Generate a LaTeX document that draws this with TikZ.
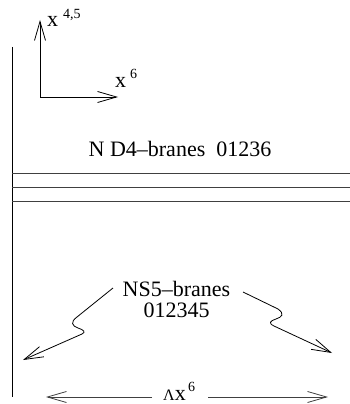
\documentclass[tikz,border=0pt]{standalone}
\usepackage{fontspec}
\setmainfont{Liberation Serif}
\usetikzlibrary{arrows.meta}
\tikzset{
  ln/.style={line width=0.8pt, black},
  brane/.style={line width=0.9pt, black!75},
  barb/.style={-{Straight Barb[length=19pt,width=11pt,line width=0.8pt]}},
  lbl/.style={font=\fontsize{22}{22}\selectfont, inner sep=0pt, anchor=base},
  sup/.style={font=\fontsize{14}{14}\selectfont, inner sep=0pt, anchor=base west},
}
\begin{document}
\begin{tikzpicture}[x=1pt,y=-1pt]
  \useasboundingbox (0,0) rectangle (350,404);

  % axes
  \coordinate (o) at (40,97);
  \coordinate (ytip) at (40,20);
  \coordinate (xtip) at (118,97);
  \draw[ln,barb] (o) -- (ytip);
  \draw[ln,barb] (o) -- (xtip);
  \node[lbl,anchor=base west] (xy) at (47,27) {x};
  \node[sup] (xys) at (63,19) {4,5};
  \node[lbl,anchor=base west] (xx) at (115,87) {x};
  \node[sup] (xxs) at (130,78) {6};

  % NS5-brane (vertical line)
  \coordinate (ns5top) at (12,47);
  \coordinate (ns5bot) at (12,397);
  \draw[ln] (ns5top) -- (ns5bot);

  % D4-branes
  \node[lbl] (d4) at (180,156) {N D4–branes\ \ 01236};
  \foreach \y/\n in {173/a,187/b,201/c}{
    \coordinate (d4\n l) at (12,\y);
    \coordinate (d4\n r) at (350,\y);
    \draw[brane] (d4\n l) -- (d4\n r);
  }

  % NS5-branes label
  \node[lbl] (ns5) at (176.5,296) {NS5–branes};
  \node[lbl] (ns5w) at (176.5,317) {012345};

  % squiggly arrows
  \coordinate (ls) at (113,288);
  \coordinate (lt) at (23,360);
  \coordinate (rs) at (243,292);
  \coordinate (rt) at (332,353);
  \draw[ln,barb] (ls) -- (77,317) .. controls (70,322) and (72,326) .. (78,328)
     .. controls (84,330) and (86,332) .. (82,334) -- (lt);
  \draw[ln,barb] (rs) -- (278,309) .. controls (285,314) and (282,317) .. (276,319)
     .. controls (270,321) and (268,323) .. (274,326) -- (rt);

  % separation
  \node[inner sep=0pt, anchor=base west] (dx) at (163,400)
    {{\fontsize{16}{16}\selectfont Λ}{\fontsize{22}{22}\selectfont x}\raisebox{9pt}{\fontsize{14}{14}\selectfont\,6}};
  \coordinate (dl) at (152,397);
  \coordinate (dr) at (208,397);
  \coordinate (dlt) at (46,397);
  \coordinate (drt) at (328,397);
  \draw[ln,black!75,barb] (dl) -- (dlt);
  \draw[ln,black!75,barb] (dr) -- (drt);
\end{tikzpicture}
\end{document}
